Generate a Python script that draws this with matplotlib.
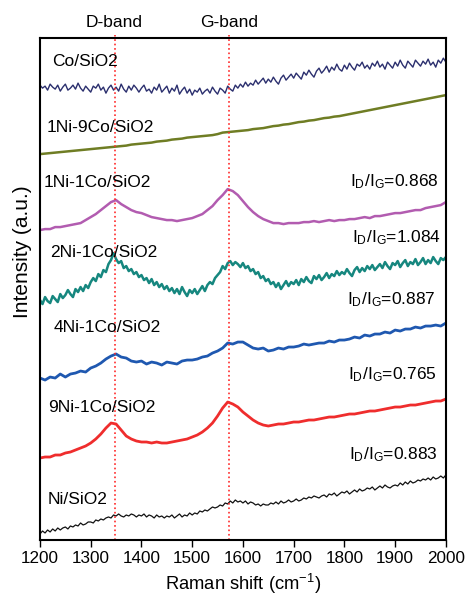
import numpy as np
import matplotlib
matplotlib.use("Agg")
import matplotlib.pyplot as plt

plt.rcParams['font.family'] = ['Liberation Sans', 'DejaVu Sans']
plt.rcParams['mathtext.fontset'] = 'custom'
plt.rcParams['mathtext.rm'] = 'Liberation Sans'

# Raman shift grids (cm-1): 5 cm-1 for the noisy traces, 10 cm-1 for the smooth ones
shift_fine = np.arange(1200, 2001, 5)
shift = np.arange(1200, 2001, 10)

# offset spectra (a.u.)
co = [455, 452, 454, 450, 456, 453, 451, 455, 449, 453,
      456, 450, 452, 455, 451, 457, 452, 449, 454, 451,
      448, 454, 452, 456, 450, 453, 447, 452, 455, 450,
      453, 449, 456, 451, 448, 454, 450, 455, 452, 448,
      452, 455, 449, 451, 447, 453, 450, 456, 448, 451,
      454, 447, 452, 449, 455, 446, 450, 453, 447, 451,
      445, 450, 448, 452, 446, 449, 451, 447, 453, 449,
      446, 452, 450, 447, 454, 451, 449, 455, 452, 456,
      453, 458, 454, 457, 455, 460, 456, 459, 462, 457,
      461, 458, 463, 459, 456, 462, 465, 460, 463, 466,
      462, 467, 464, 461, 468, 465, 470, 466, 463, 469,
      472, 467, 470, 474, 468, 473, 470, 476, 471, 469,
      475, 471, 477, 473, 470, 476, 474, 478, 472, 475,
      471, 477, 474, 479, 473, 476, 471, 478, 475, 472,
      478, 474, 480, 475, 472, 479, 476, 473, 480, 477,
      474, 479, 476, 481, 475, 478, 473, 480, 477, 482,
      478]
ni1co9 = [386, 386.5, 387, 387.5, 388, 388.5, 389, 389.5, 390, 390.5,
          391, 391.5, 392, 392.5, 393, 393.5, 394, 394.5, 395.5, 396,
          396.5, 397, 397.5, 398.5, 399, 399.5, 400.5, 401, 401.5, 402.5,
          403, 403.5, 404, 404.5, 405, 406, 407.5, 408, 408.5, 409,
          409.5, 410, 411, 411.5, 412, 413, 414, 414.5, 415.5, 416,
          417, 418, 418.5, 419.5, 420, 421, 422, 422.5, 423.5, 424,
          425, 426, 427, 428, 429, 430, 431, 432, 433, 434,
          435, 436, 437, 438, 439, 440, 441, 442, 443, 444,
          445]
ni1co1 = [310, 311, 311, 313, 313, 314, 315, 316, 317, 320,
          323, 326, 330, 334, 338, 340, 336, 333, 330, 328,
          327, 325, 323, 322, 321, 320, 320, 319, 320, 321,
          322, 324, 326, 330, 334, 340, 345, 351, 349, 345,
          339, 333, 328, 324, 321, 319, 317, 317, 316, 317,
          317, 317, 318, 318, 319, 318, 319, 320, 319, 320,
          320, 321, 321, 322, 323, 322, 324, 324, 325, 326,
          327, 327, 328, 329, 330, 330, 332, 333, 334, 335,
          338]
ni2co1 = [240, 236, 243, 239, 237, 244, 241, 238, 246, 242,
          245, 250, 246, 243, 251, 248, 253, 249, 255, 252,
          258, 262, 259, 266, 263, 270, 268, 276, 280, 287,
          281, 277, 279, 272, 274, 269, 271, 266, 268, 263,
          265, 260, 262, 257, 261, 255, 258, 253, 256, 251,
          254, 249, 252, 247, 251, 246, 253, 248, 244, 250,
          247, 251, 246, 250, 254, 249, 255, 258, 256, 262,
          265, 268, 274, 271, 277, 279, 275, 278, 276, 273,
          277, 272, 274, 269, 271, 266, 268, 262, 264, 259,
          261, 256, 258, 253, 257, 251, 255, 259, 254, 258,
          256, 260, 255, 261, 258, 263, 259, 257, 264, 261,
          265, 260, 263, 267, 262, 266, 264, 269, 265, 268,
          266, 271, 267, 264, 270, 273, 268, 272, 269, 274,
          271, 275, 270, 273, 276, 272, 278, 274, 271, 277,
          275, 279, 273, 277, 280, 274, 278, 276, 281, 275,
          278, 282, 276, 280, 277, 283, 279, 276, 282, 280,
          283]
ni4co1 = [162, 160, 163, 162, 166, 163, 166, 167, 169, 168,
          172, 174, 177, 181, 184, 186, 183, 182, 179, 178,
          179, 176, 178, 177, 175, 178, 177, 176, 179, 180,
          180, 181, 183, 184, 187, 189, 192, 197, 196, 198,
          198, 195, 192, 191, 192, 189, 190, 192, 191, 193,
          193, 194, 196, 195, 196, 197, 197, 199, 198, 200,
          200, 201, 203, 202, 205, 204, 206, 206, 208, 207,
          210, 209, 211, 211, 213, 212, 214, 214, 215, 214,
          217]
ni9co1 = [82, 83, 83, 85, 85, 87, 88, 90, 92, 94,
          97, 101, 106, 112, 117, 116, 110, 104, 101, 99,
          98, 98, 97, 98, 97, 97, 98, 99, 100, 101,
          103, 105, 108, 112, 117, 124, 132, 138, 136, 133,
          128, 124, 120, 117, 115, 114, 115, 116, 116, 117,
          118, 118, 119, 120, 120, 121, 122, 123, 123, 124,
          125, 126, 126, 127, 128, 129, 129, 130, 131, 132,
          133, 133, 134, 135, 135, 136, 137, 138, 139, 139,
          141]
ni = [6, 9, 7, 10, 8, 11, 9, 12, 10, 12,
      13, 11, 14, 13, 15, 14, 17, 15, 16, 18,
      18, 17, 20, 19, 21, 20, 22, 23, 22, 25,
      24, 26, 24, 23, 25, 24, 26, 25, 23, 25,
      24, 26, 23, 25, 24, 22, 25, 23, 24, 22,
      24, 23, 25, 22, 24, 26, 23, 25, 24, 27,
      25, 27, 26, 29, 28, 30, 29, 31, 33, 32,
      33, 35, 34, 37, 36, 39, 37, 40, 38, 39,
      37, 39, 36, 38, 37, 35, 36, 34, 36, 35,
      35, 37, 36, 38, 36, 39, 37, 38, 40, 38,
      39, 41, 39, 40, 42, 41, 43, 42, 44, 43,
      42, 44, 45, 43, 46, 45, 47, 44, 46, 48,
      47, 49, 46, 48, 50, 48, 51, 49, 50, 52,
      51, 53, 50, 52, 54, 52, 55, 53, 52, 54,
      55, 54, 57, 55, 58, 56, 59, 57, 58, 60,
      59, 61, 60, 62, 60, 63, 61, 62, 64, 62,
      65]

names = ['Co/SiO2', '1Ni-9Co/SiO2', '1Ni-1Co/SiO2', '2Ni-1Co/SiO2',
         '4Ni-1Co/SiO2', '9Ni-1Co/SiO2', 'Ni/SiO2']
spectra = [co, ni1co9, ni1co1, ni2co1, ni4co1, ni9co1, ni]
grids = [shift_fine, shift, shift, shift_fine, shift, shift, shift_fine]
colors = ['#2b2f6e', '#6f7d24', '#b25cb0', '#16877f', '#1f58b0', '#ef2d2d', '#111111']
widths = [1.0, 1.8, 1.8, 1.8, 2.0, 2.0, 0.9]
label_x = [1224, 1214, 1208, 1220, 1226, 1216, 1216]
label_y = [479, 413, 358, 288, 213, 133, 40]

ratios = ['0.868', '1.084', '0.887', '0.765', '0.883']
ratio_x = [1986, 1990, 1980, 1982, 1984]
ratio_y = [358, 302, 240, 165, 85]

bands = ['D-band', 'G-band']
band_pos = [1347, 1572]

fig = plt.figure(figsize=(4.66, 5.96), dpi=100)
ax = fig.add_axes([0.0858, 0.094, 0.871, 0.842])

for g, y, c, w in zip(grids, spectra, colors, widths):
    ax.plot(g, y, color=c, lw=w)

for pos, name in zip(band_pos, bands):
    ax.axvline(pos, ymin=0, ymax=1.006, color='#ff2a2a', ls=':', lw=1.2, clip_on=False)
    ax.text(pos, 1.032, name, transform=ax.get_xaxis_transform(), ha='center', va='center',
            fontsize=12.5)

for n, lx, ly in zip(names, label_x, label_y):
    ax.text(lx, ly, n, fontsize=12.5, ha='left', va='center')

for r, rx, ry in zip(ratios, ratio_x, ratio_y):
    ax.text(rx, ry, r'$\mathregular{I_D/I_G}$=' + r, fontsize=12.5, ha='right', va='center')

ax.set_xlim(1200, 2000)
ax.set_ylim(0, 502)
ax.set_xticks(np.arange(1200, 2001, 100))
ax.set_yticks([])
ax.tick_params(axis='x', direction='out', length=5, width=1, labelsize=12.3, pad=3)
for s in ax.spines.values():
    s.set_linewidth(1.5)
ax.set_xlabel('Raman shift (cm$^{-1}$)', fontsize=13.2, labelpad=4)
ax.text(-0.042, 0.574, 'Intensity (a.u.)', transform=ax.transAxes, rotation=90,
        ha='center', va='center', fontsize=15)

fig.savefig('out.png', dpi=100)
